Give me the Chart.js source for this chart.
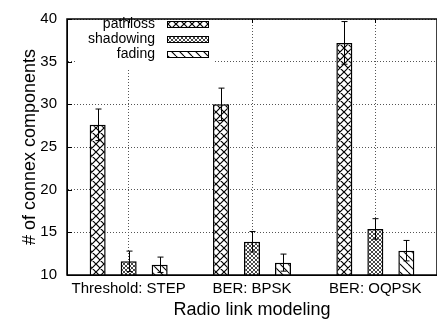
<!DOCTYPE html>
<html>
<head>
<meta charset="utf-8">
<script src="https://cdn.jsdelivr.net/npm/chart.js@4/dist/chart.umd.min.js"></script>
<style>
  html, body { margin: 0; padding: 0; background: #fff; }
  #wrap { width: 437px; height: 321px; }
</style>
</head>
<body>
<div id="wrap"><canvas id="c" width="437" height="321"></canvas></div>
<script>
// Radio link models on the x axis, one bar per propagation effect
const categories = ['Threshold: STEP', 'BER: BPSK', 'BER: OQPSK'];
const seriesNames = ['pathloss', 'shadowing', 'fading'];

// mean number of connex components and half-width of the error bar
const pathloss = [27.6, 30.0, 37.2];
const pathlossErr = [1.85, 1.9, 2.5];
const shadowing = [11.6, 13.9, 15.4];
const shadowingErr = [1.2, 1.2, 1.2];
const fading = [11.2, 11.45, 12.85];
const fadingErr = [0.9, 1.0, 1.2];

const yTicks = [10, 15, 20, 25, 30, 35, 40];

const FONT = '"Liberation Sans", Helvetica, Arial, sans-serif';

// Hatch tiles in the style of gnuplot fill patterns
function hatch(period, lineWidth, color, both, backslashOnly) {
  const c = document.createElement('canvas');
  c.width = c.height = period;
  const g = c.getContext('2d');
  g.fillStyle = '#fff';
  g.fillRect(0, 0, period, period);
  g.strokeStyle = color;
  g.lineWidth = lineWidth;
  g.beginPath();
  for (let k = -1; k <= 1; k++) {
    const o = k * period;
    if (both || backslashOnly) { g.moveTo(o, 0); g.lineTo(o + period, period); }
    if (both) { g.moveTo(o + period, 0); g.lineTo(o, period); }
  }
  g.stroke();
  return g.createPattern(c, 'repeat');
}

const ctx = document.getElementById('c').getContext('2d');
const fills = [
  hatch(8, 1.2, '#000', true, false),
  hatch(4, 0.9, '#333', true, false),
  hatch(8, 1.1, '#000', false, true)
];
const seriesValues = [pathloss, shadowing, fading];
const seriesErrors = [pathlossErr, shadowingErr, fadingErr];

// error bars, legend box and frame drawn on top of the bars
const overlay = {
  id: 'overlay',
  afterDatasetsDraw(chart) {
    const c = chart.ctx;
    const ys = chart.scales.y;
    const area = chart.chartArea;
    c.save();
    // error bars
    c.strokeStyle = '#000';
    c.lineWidth = 1;
    chart.data.datasets.forEach((ds, i) => {
      const meta = chart.getDatasetMeta(i);
      meta.data.forEach((bar, j) => {
        const v = ds.data[j], e = seriesErrors[i][j];
        const x = Math.round(bar.x) + 0.5;
        const yTop = ys.getPixelForValue(v + e);
        const yBot = ys.getPixelForValue(Math.max(v - e, ys.min));
        c.beginPath();
        c.moveTo(x, yTop); c.lineTo(x, yBot);
        c.moveTo(x - 3, yTop); c.lineTo(x + 3, yTop);
        if (v - e > ys.min) { c.moveTo(x - 3, yBot); c.lineTo(x + 3, yBot); }
        c.stroke();
      });
    });
    // legend: white box, right-aligned labels, hatched swatches
    c.fillStyle = '#fff';
    c.fillRect(area.left + 8, area.top + 3, 139, 46);
    c.font = '14px ' + FONT;
    c.textAlign = 'right';
    c.textBaseline = 'middle';
    seriesNames.forEach((name, i) => {
      const cy = 24 + i * 15;
      c.fillStyle = '#000';
      c.fillText(name, 155, cy);
      c.fillStyle = fills[i];
      c.fillRect(167, cy - 3, 42, 7);
      c.strokeStyle = '#000';
      c.lineWidth = 1;
      c.strokeRect(167.5, cy - 2.5, 41, 6);
    });
    // inner ticks on the left axis and at category centers on top
    c.strokeStyle = '#000';
    c.lineWidth = 1;
    c.beginPath();
    ys.ticks.forEach(t => {
      const y = Math.round(ys.getPixelForValue(t.value)) + 0.5;
      c.moveTo(area.left, y); c.lineTo(area.left + 5, y);
    });
    const xs = chart.scales.x;
    categories.forEach((_, j) => {
      const x = Math.round(xs.getPixelForValue(j)) + 0.5;
      c.moveTo(x, area.top); c.lineTo(x, area.top + 4);
    });
    c.stroke();
    // frame
    c.lineWidth = 1.5;
    c.strokeRect(area.left, area.top, area.right - area.left, area.bottom - area.top);
    c.restore();
  }
};

new Chart(ctx, {
  type: 'bar',
  data: {
    labels: categories,
    datasets: seriesNames.map((name, i) => ({
      label: name,
      data: seriesValues[i],
      backgroundColor: fills[i],
      borderColor: '#000',
      borderWidth: 1.5,
      borderSkipped: false,
      categoryPercentage: 0.754,
      barPercentage: 0.516
    }))
  },
  options: {
    responsive: false,
    animation: false,
    devicePixelRatio: 1,
    layout: { padding: { top: 12, right: 0, bottom: 0, left: 0 } },
    plugins: { legend: { display: false }, tooltip: { enabled: false } },
    scales: {
      x: {
        grid: { display: true, offset: false, color: '#555', lineWidth: 1, drawTicks: false },
        border: { display: true, color: '#000', width: 1, dash: [1, 2] },
        ticks: { color: '#000', font: { family: FONT, size: 15 }, padding: 5, maxRotation: 0 },
        title: { display: true, text: 'Radio link modeling', color: '#000',
                 font: { family: FONT, size: 18 }, padding: { top: 0, bottom: 0 } },
        afterFit(s) { s.height = 46; }
      },
      y: {
        min: 10, max: 40,
        afterBuildTicks(s) { s.ticks = yTicks.map(v => ({ value: v })); },
        grid: { display: true, color: '#555', lineWidth: 1, drawTicks: false },
        border: { display: true, color: '#000', width: 1, dash: [1, 2] },
        ticks: { color: '#000', font: { family: FONT, size: 15 }, padding: 10 },
        title: { display: true, text: '# of connex components', color: '#000',
                 font: { family: FONT, size: 18 }, padding: { top: 19, bottom: 0 } },
        afterFit(s) { s.width = 67; }
      }
    }
  },
  plugins: [overlay]
});
</script>
</body>
</html>
